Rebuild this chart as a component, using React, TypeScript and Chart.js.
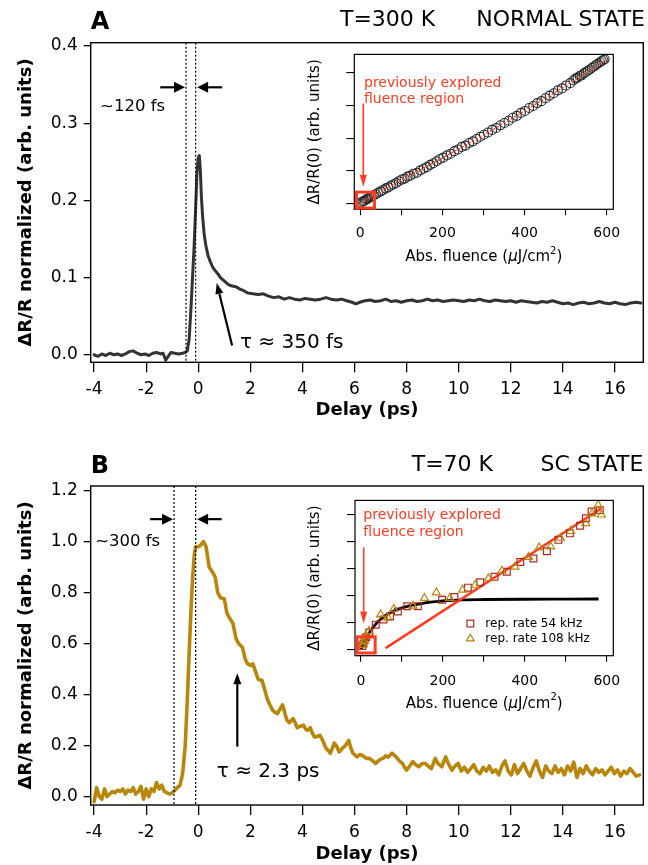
import React, { useEffect, useRef } from "react";
import { Chart, registerables } from "chart.js";
Chart.register(...registerables);

const FONT = "'DejaVu Sans', 'Liberation Sans', sans-serif";
const INK = "#000000";
const TRACE_A = "#333333";
const TRACE_B = "#b8860b";
const RED = "#ff3b21";
const SQUARE = "#b3281c";

// ---------- Panel A: T=300 K trace (delay ps, dR/R) ----------
const traceA: [number, number][] = [
  [-4.0, 0.0], [-3.85, -0.002], [-3.7, 0.001], [-3.55, -0.001], [-3.4, 0.002], [-3.25, 0.0], [-3.1, 0.001],
  [-2.95, -0.001], [-2.8, 0.001], [-2.65, 0.004], [-2.5, 0.005], [-2.35, 0.002], [-2.2, 0.0], [-2.05, 0.001],
  [-1.9, -0.001], [-1.75, 0.002], [-1.6, 0.003], [-1.45, 0.001], [-1.35, 0.002], [-1.25, -0.007], [-1.15, -0.002],
  [-1.05, 0.003], [-0.9, 0.002], [-0.75, 0.001], [-0.6, 0.002], [-0.5, 0.003], [-0.42, 0.005], [-0.35, 0.02],
  [-0.28, 0.06], [-0.22, 0.1], [-0.16, 0.14], [-0.1, 0.19], [-0.05, 0.235], [0.0, 0.255], [0.04, 0.258],
  [0.08, 0.24], [0.12, 0.205], [0.17, 0.178], [0.23, 0.155], [0.3, 0.14], [0.38, 0.128], [0.47, 0.12],
  [0.56, 0.113], [0.65, 0.109], [0.75, 0.105], [0.85, 0.1], [0.95, 0.097], [1.05, 0.094], [1.15, 0.091],
  [1.3, 0.089], [1.45, 0.088], [1.6, 0.085], [1.75, 0.083], [1.9, 0.08], [2.1, 0.079], [2.3, 0.078],
  [2.5, 0.079], [2.7, 0.076], [2.9, 0.074], [3.1, 0.075], [3.3, 0.072], [3.5, 0.074], [3.7, 0.072],
  [3.9, 0.071], [4.1, 0.073], [4.3, 0.072], [4.5, 0.071], [4.7, 0.072], [4.9, 0.074], [5.1, 0.072],
  [5.3, 0.071], [5.5, 0.072], [5.7, 0.07], [5.9, 0.068], [6.05, 0.066], [6.2, 0.068], [6.4, 0.07],
  [6.6, 0.071], [6.8, 0.069], [7.0, 0.07], [7.2, 0.072], [7.4, 0.069], [7.6, 0.07], [7.8, 0.068],
  [8.0, 0.07], [8.2, 0.071], [8.4, 0.069], [8.6, 0.07], [8.8, 0.072], [9.0, 0.07], [9.2, 0.071],
  [9.4, 0.069], [9.6, 0.07], [9.8, 0.071], [10.0, 0.07], [10.2, 0.069], [10.4, 0.071], [10.6, 0.07],
  [10.8, 0.072], [11.0, 0.07], [11.2, 0.069], [11.4, 0.071], [11.6, 0.07], [11.8, 0.069], [12.0, 0.07],
  [12.2, 0.068], [12.4, 0.07], [12.6, 0.069], [12.8, 0.068], [13.0, 0.067], [13.2, 0.069], [13.4, 0.068],
  [13.6, 0.07], [13.8, 0.068], [14.0, 0.066], [14.2, 0.067], [14.4, 0.065], [14.6, 0.067], [14.8, 0.068],
  [15.0, 0.066], [15.2, 0.067], [15.4, 0.069], [15.6, 0.067], [15.8, 0.066], [16.0, 0.068], [16.2, 0.066],
  [16.4, 0.065], [16.6, 0.067], [16.8, 0.068], [17.0, 0.067],
];

// ---------- Panel B: T=70 K trace ----------
const traceB: [number, number][] = [
  [-4.0, -0.02], [-3.9, 0.035], [-3.8, 0.0], [-3.7, -0.01], [-3.6, 0.03], [-3.5, 0.0], [-3.4, 0.01],
  [-3.3, 0.02], [-3.2, 0.015], [-3.1, 0.025], [-3.0, 0.02], [-2.9, 0.03], [-2.8, 0.01], [-2.7, 0.025],
  [-2.6, 0.02], [-2.5, 0.035], [-2.4, 0.01], [-2.3, 0.02], [-2.2, 0.04], [-2.1, -0.01], [-2.0, 0.03],
  [-1.9, 0.0], [-1.8, 0.03], [-1.7, 0.02], [-1.6, 0.055], [-1.5, 0.03], [-1.4, 0.045], [-1.3, 0.02],
  [-1.2, 0.015], [-1.1, 0.01], [-1.0, 0.015], [-0.9, 0.025], [-0.8, 0.035], [-0.7, 0.045], [-0.6, 0.09],
  [-0.5, 0.2], [-0.42, 0.38], [-0.35, 0.56], [-0.28, 0.73], [-0.22, 0.85], [-0.15, 0.95], [-0.1, 0.98],
  [0.0, 0.98], [0.08, 0.985], [0.2, 1.0], [0.3, 0.98], [0.42, 0.9], [0.55, 0.88], [0.65, 0.86],
  [0.75, 0.8], [0.85, 0.78], [1.0, 0.775], [1.1, 0.72], [1.2, 0.7], [1.33, 0.68], [1.45, 0.62],
  [1.55, 0.6], [1.7, 0.585], [1.8, 0.54], [1.9, 0.52], [2.0, 0.515], [2.1, 0.52], [2.2, 0.49],
  [2.3, 0.46], [2.45, 0.455], [2.55, 0.42], [2.66, 0.38], [2.75, 0.36], [2.85, 0.34], [2.95, 0.33],
  [3.04, 0.325], [3.15, 0.345], [3.24, 0.36], [3.32, 0.33], [3.4, 0.3], [3.5, 0.29], [3.64, 0.306],
  [3.72, 0.29], [3.8, 0.27], [3.9, 0.275], [4.04, 0.28], [4.12, 0.265], [4.2, 0.26], [4.3, 0.27],
  [4.38, 0.25], [4.46, 0.234], [4.55, 0.235], [4.67, 0.24], [4.78, 0.22], [4.9, 0.19], [5.0, 0.18],
  [5.07, 0.17], [5.15, 0.19], [5.22, 0.21], [5.3, 0.2], [5.41, 0.175], [5.54, 0.19], [5.65, 0.2],
  [5.78, 0.22], [5.86, 0.19], [5.94, 0.17], [6.1, 0.156], [6.2, 0.165], [6.33, 0.16], [6.45, 0.15],
  [6.57, 0.15], [6.7, 0.14], [6.81, 0.13], [6.97, 0.145], [7.1, 0.15], [7.2, 0.16], [7.3, 0.155],
  [7.44, 0.17], [7.6, 0.156], [7.72, 0.14], [7.84, 0.13], [7.92, 0.115], [8.0, 0.104], [8.12, 0.12],
  [8.24, 0.137], [8.35, 0.125], [8.47, 0.117], [8.6, 0.13], [8.71, 0.13], [8.83, 0.12], [8.95, 0.11],
  [9.1, 0.15], [9.2, 0.13], [9.35, 0.117], [9.5, 0.156], [9.6, 0.13], [9.74, 0.104], [9.86, 0.12],
  [9.98, 0.13], [10.1, 0.1], [10.22, 0.115], [10.34, 0.095], [10.46, 0.11], [10.58, 0.125], [10.7, 0.1],
  [10.82, 0.09], [10.94, 0.115], [11.06, 0.1], [11.18, 0.12], [11.3, 0.095], [11.42, 0.105], [11.54, 0.085],
  [11.66, 0.12], [11.78, 0.14], [11.9, 0.1], [12.02, 0.085], [12.14, 0.125], [12.26, 0.09], [12.38, 0.11],
  [12.5, 0.13], [12.62, 0.1], [12.74, 0.08], [12.86, 0.115], [12.98, 0.14], [13.1, 0.1], [13.22, 0.075],
  [13.34, 0.12], [13.46, 0.1], [13.58, 0.09], [13.7, 0.12], [13.82, 0.095], [13.94, 0.11], [14.06, 0.085],
  [14.18, 0.12], [14.3, 0.1], [14.42, 0.135], [14.54, 0.075], [14.66, 0.11], [14.78, 0.09], [14.9, 0.12],
  [15.02, 0.1], [15.14, 0.085], [15.26, 0.11], [15.38, 0.095], [15.5, 0.105], [15.62, 0.085], [15.74, 0.1],
  [15.86, 0.115], [15.98, 0.09], [16.1, 0.105], [16.22, 0.08], [16.34, 0.1], [16.46, 0.09], [16.58, 0.11],
  [16.7, 0.095], [16.82, 0.08], [16.95, 0.085],
];

// ---------- Inset A: fluence dependence, normal state ----------
const insetAPoints: [number, number][] = [
  [2, 0.03], [5, 0.05], [8, 0.07], [11, 0.09], [14, 0.12], [17, 0.13], [20, 0.16], [24, 0.19], [28, 0.21],
  [33, 0.25], [38, 0.28], [44, 0.33], [50, 0.37], [56, 0.41], [62, 0.46], [68, 0.49], [74, 0.54], [80, 0.58],
  [87, 0.62], [94, 0.68], [101, 0.73], [108, 0.76], [115, 0.82], [122, 0.85], [130, 0.91], [138, 0.94],
  [146, 1.01], [154, 1.06], [162, 1.11], [170, 1.18], [178, 1.23], [186, 1.29], [194, 1.36], [202, 1.4],
  [211, 1.47], [220, 1.52], [229, 1.6], [238, 1.65], [247, 1.73], [256, 1.77], [265, 1.85], [274, 1.9],
  [283, 1.97], [292, 2.04], [301, 2.1], [311, 2.17], [321, 2.25], [331, 2.31], [341, 2.39], [351, 2.46],
  [361, 2.53], [371, 2.62], [381, 2.68], [391, 2.77], [401, 2.83], [411, 2.92], [421, 2.98], [431, 3.07],
  [441, 3.13], [451, 3.22], [461, 3.3], [471, 3.37], [481, 3.46], [491, 3.52], [501, 3.61], [511, 3.68],
  [519, 3.77], [524, 3.82], [529, 3.85], [534, 3.9], [539, 3.92], [544, 3.98], [549, 4.02], [554, 4.06],
  [559, 4.1], [564, 4.15], [569, 4.19], [574, 4.24], [579, 4.28], [584, 4.32], [588, 4.36], [592, 4.39],
  [595, 4.41],
];
const insetAFit: [number, number][] = [
  [0, 0.02], [100, 0.72], [200, 1.39], [300, 2.09], [400, 2.83], [500, 3.6], [600, 4.4],
];

// ---------- Inset B: fluence dependence, SC state ----------
const rate54kHz: [number, number][] = [
  [3, 0.12], [6, 0.2], [9, 0.35], [13, 0.45], [20, 0.62], [36, 0.91], [55, 1.1], [71, 1.22], [90, 1.4],
  [113, 1.59], [139, 1.59], [198, 1.83], [228, 1.93], [261, 2.28], [291, 2.48], [326, 2.68], [356, 2.87],
  [389, 3.23], [421, 3.36], [454, 3.63], [482, 4.05], [510, 4.29], [535, 4.57], [549, 4.85], [563, 5.1],
  [583, 5.15],
];
const rate108kHz: [number, number][] = [
  [2, 0.15], [5, 0.25], [8, 0.32], [12, 0.5], [19.5, 0.67], [48, 1.28], [66, 1.16], [80, 1.49], [127, 1.61],
  [155, 1.89], [184, 2.1], [217, 1.89], [248, 2.2], [279, 2.38], [311, 2.62], [344, 2.9], [376, 3.05],
  [409, 3.41], [435, 3.76], [463, 3.8], [487, 4.12], [512, 4.37], [549, 4.66], [564, 5.02], [579, 5.34],
  [587, 4.98],
];
const saturationCurve: [number, number][] = [
  [0, 0.0], [10, 0.3], [20, 0.6], [30, 0.82], [40, 1.0], [50, 1.13], [60, 1.25], [75, 1.38], [100, 1.53],
  [125, 1.63], [150, 1.7], [175, 1.75], [200, 1.79], [250, 1.83], [300, 1.84], [400, 1.85], [500, 1.855],
  [580, 1.86],
];
const linearFit: [number, number][] = [[60, 0.04], [587, 5.22]];

// ---------- Ticks ----------
const delayTicks = [-4, -2, 0, 2, 4, 6, 8, 10, 12, 14, 16];
const yTicksA = [0, 0.1, 0.2, 0.3, 0.4];
const yTicksB = [0, 0.2, 0.4, 0.6, 0.8, 1.0, 1.2];
const fluenceTicks = [0, 100, 200, 300, 400, 500, 600];
const fluenceLabels = [0, 200, 400, 600];
const insetAYTicks = [0, 1, 2, 3, 4];
const insetBYTicks = [0, 1, 2, 3, 4, 5];

// ---------- Annotation anchors (data coordinates) ----------
const annotA = {
  lines: [-0.47, -0.1], arrowY: 0.3465, arrowTails: [-1.46, 0.92], widthLabel: [-3.77, 0.321],
  tauFrom: [1.3, 0.012], tauTo: [0.71, 0.093], tauLabel: [1.6, 0.015],
};
const annotB = {
  lines: [-0.93, -0.1], arrowY: 1.088, arrowTails: [-1.85, 0.9], widthLabel: [-3.96, 1.0],
  tauFrom: [1.5, 0.196], tauTo: [1.5, 0.484], tauLabel: [0.71, 0.098],
};
const insetAAnnot = { box: [-9.3, 34.6, -0.143, 0.345], arrow: [7.3, 3.06, 0.51], text: [9, 3.67, 3.18] };
const insetBAnnot = {
  box: [-9.3, 34.6, -0.14, 0.46], arrow: [6.6, 3.77, 0.95], text: [5.8, 4.94, 4.32],
  legend: [267, 303.6, 0.95, 0.39],
};

const xy = (pairs: [number, number][]) => pairs.map(([x, y]) => ({ x, y }));

// ---------- drawing helpers ----------
function txt(ctx: any, s: string, x: number, y: number, size: number, o: any = {}) {
  ctx.save();
  ctx.font = `${o.italic ? "italic " : ""}${o.bold ? "bold " : ""}${size}px ${FONT}`;
  ctx.fillStyle = o.color || INK;
  ctx.textAlign = o.align || "left";
  ctx.textBaseline = "middle";
  ctx.fillText(s, x, y);
  ctx.restore();
}
function vDotted(ctx: any, x: number, y1: number, y2: number) {
  ctx.save();
  ctx.strokeStyle = INK;
  ctx.lineWidth = 1.2;
  ctx.setLineDash([2, 2]);
  ctx.beginPath();
  ctx.moveTo(x, y1);
  ctx.lineTo(x, y2);
  ctx.stroke();
  ctx.restore();
}
function arrow(ctx: any, x1: number, y1: number, x2: number, y2: number, o: any = {}) {
  const color = o.color || INK, lw = o.lw || 2, head = o.head || 11, hw = o.hw || 11;
  const ang = Math.atan2(y2 - y1, x2 - x1);
  const bx = x2 - head * Math.cos(ang), by = y2 - head * Math.sin(ang);
  ctx.save();
  ctx.strokeStyle = color;
  ctx.fillStyle = color;
  ctx.lineWidth = lw;
  ctx.beginPath();
  ctx.moveTo(x1, y1);
  ctx.lineTo(bx, by);
  ctx.stroke();
  ctx.beginPath();
  ctx.moveTo(x2, y2);
  ctx.lineTo(bx + (hw / 2) * Math.sin(ang), by - (hw / 2) * Math.cos(ang));
  ctx.lineTo(bx - (hw / 2) * Math.sin(ang), by + (hw / 2) * Math.cos(ang));
  ctx.closePath();
  ctx.fill();
  ctx.restore();
}
function fluenceTitle(ctx: any, cx: number, cy: number, size: number) {
  const parts = [
    { t: "Abs. fluence (", f: `${size}px ${FONT}`, dy: 0 },
    { t: "\u03bc", f: `italic ${size}px ${FONT}`, dy: 0 },
    { t: "J/cm", f: `${size}px ${FONT}`, dy: 0 },
    { t: "2", f: `${Math.round(size * 0.68)}px ${FONT}`, dy: -size * 0.42 },
    { t: ")", f: `${size}px ${FONT}`, dy: 0 },
  ];
  ctx.save();
  ctx.fillStyle = INK;
  ctx.textBaseline = "middle";
  ctx.textAlign = "left";
  let total = 0;
  const widths = parts.map((p) => {
    ctx.font = p.f;
    const w = ctx.measureText(p.t).width;
    total += w;
    return w;
  });
  let x = cx - total / 2;
  parts.forEach((p, i) => {
    ctx.font = p.f;
    ctx.fillText(p.t, x, cy + p.dy);
    x += widths[i];
  });
  ctx.restore();
}

const framePlugin = (lw: number) => ({
  id: "frame",
  afterDraw(chart: any) {
    const { ctx, chartArea: a } = chart;
    ctx.save();
    ctx.strokeStyle = INK;
    ctx.lineWidth = lw;
    ctx.strokeRect(a.left, a.top, a.right - a.left, a.bottom - a.top);
    ctx.restore();
  },
});

// ---------- main panels ----------
function mainConfig(o: any) {
  return {
    type: "line",
    data: {
      datasets: [
        {
          data: xy(o.trace), borderColor: o.color, borderWidth: o.width, pointRadius: 0, tension: 0,
          fill: false, borderJoinStyle: "round", borderCapStyle: "round",
        },
      ],
    },
    options: {
      animation: false, responsive: false, events: [],
      plugins: { legend: { display: false }, tooltip: { enabled: false } },
      layout: { padding: { top: o.padTop, right: 4.7, left: 0, bottom: 0 } },
      scales: {
        x: {
          type: "linear", min: -4.13, max: 17.09,
          afterBuildTicks: (s: any) => { s.ticks = delayTicks.map((v) => ({ value: v })); },
          afterFit: (s: any) => { s.height = o.xAxisH; },
          ticks: { color: INK, font: { family: FONT, size: 17 }, padding: 7, maxRotation: 0, autoSkip: false, callback: (v: any) => String(v) },
          grid: { drawOnChartArea: false, drawTicks: true, tickLength: 10, color: INK, lineWidth: 1.3 },
          border: { display: false },
          title: { display: true, text: "Delay (ps)", color: INK, font: { family: FONT, size: 18, weight: "bold" }, padding: { top: 0, bottom: 0 } },
        },
        y: {
          type: "linear", min: o.yMin, max: o.yMax,
          afterBuildTicks: (s: any) => { s.ticks = o.yTicks.map((v: number) => ({ value: v })); },
          afterFit: (s: any) => { s.width = 90.7; },
          ticks: { color: INK, font: { family: FONT, size: 17 }, padding: 6, callback: (v: any) => Number(v).toFixed(1) },
          grid: { drawOnChartArea: false, drawTicks: true, tickLength: 7, color: INK, lineWidth: 1.3 },
          border: { display: false },
          title: { display: true, text: "\u0394R/R normalized (arb. units)", color: INK, font: { family: FONT, size: 18, weight: "bold" }, padding: { top: 15.7, bottom: 0 } },
        },
      },
    },
    plugins: [framePlugin(1.4), { id: "annot", afterDraw: o.draw }],
  };
}

function drawMain(an: any, o: any) {
  return (chart: any) => {
    const { ctx, chartArea: a, scales } = chart;
    const X = (v: number) => scales.x.getPixelForValue(v);
    const Y = (v: number) => scales.y.getPixelForValue(v);
    an.lines.forEach((v: number) => vDotted(ctx, X(v), a.top, a.bottom));
    const ay = Y(an.arrowY);
    arrow(ctx, X(an.arrowTails[0]), ay, X(an.lines[0]) - 1, ay, { lw: 2.2, head: 11, hw: 11 });
    arrow(ctx, X(an.arrowTails[1]), ay, X(an.lines[1]) + 1.5, ay, { lw: 2.2, head: 11, hw: 11 });
    txt(ctx, o.widthText, X(an.widthLabel[0]), Y(an.widthLabel[1]), 16.5);
    arrow(ctx, X(an.tauFrom[0]), Y(an.tauFrom[1]), X(an.tauTo[0]), Y(an.tauTo[1]), { lw: 2.2, head: 11, hw: 8 });
    txt(ctx, o.tauText, X(an.tauLabel[0]), Y(an.tauLabel[1]), 20);
    txt(ctx, o.letter, a.left, a.top - 19.5, 24, { bold: true });
    txt(ctx, o.temp, o.tempX, a.top - o.headDy, 22);
    txt(ctx, o.state, o.stateRight, a.top - o.headDy, 22, { align: "right" });
  };
}

// ---------- insets ----------
function insetConfig(o: any) {
  return {
    type: "scatter",
    data: { datasets: o.datasets },
    options: {
      animation: false, responsive: false, events: [],
      plugins: { legend: { display: false }, tooltip: { enabled: false } },
      layout: { padding: { top: o.padTop, right: 26.7, left: 0, bottom: 0 } },
      scales: {
        x: {
          type: "linear", min: -14.6, max: 616,
          afterBuildTicks: (s: any) => { s.ticks = fluenceTicks.map((v) => ({ value: v })); },
          afterFit: (s: any) => { s.height = o.xAxisH; },
          ticks: { color: INK, font: { family: FONT, size: 14 }, padding: o.xPad, maxRotation: 0, autoSkip: false, callback: (v: any) => (fluenceLabels.includes(Number(v)) ? String(v) : "") },
          grid: { drawOnChartArea: false, drawTicks: true, tickLength: 6, color: INK, lineWidth: 1.1 },
          border: { display: false },
          title: { display: false },
        },
        y: {
          type: "linear", min: o.yMin, max: o.yMax,
          afterBuildTicks: (s: any) => { s.ticks = o.yTicks.map((v: number) => ({ value: v })); },
          afterFit: (s: any) => { s.width = o.yAxisW; },
          ticks: { color: INK, font: { family: FONT, size: 14 }, padding: 2, callback: () => "" },
          grid: { drawOnChartArea: false, drawTicks: true, tickLength: 8, color: INK, lineWidth: 1.1 },
          border: { display: false },
          title: { display: true, text: "\u0394R/R(0) (arb. units)", color: INK, font: { family: FONT, size: 15 }, padding: { top: 6, bottom: 0 } },
        },
      },
    },
    plugins: [framePlugin(1.2), { id: "annot", afterDraw: o.draw }],
  };
}

function drawInsetCommon(chart: any, an: any) {
  const { ctx, chartArea: a, scales } = chart;
  const X = (v: number) => scales.x.getPixelForValue(v);
  const Y = (v: number) => scales.y.getPixelForValue(v);
  ctx.save();
  ctx.strokeStyle = RED;
  ctx.lineWidth = 3;
  ctx.strokeRect(X(an.box[0]), Y(an.box[3]), X(an.box[1]) - X(an.box[0]), Y(an.box[2]) - Y(an.box[3]));
  ctx.restore();
  arrow(ctx, X(an.arrow[0]), Y(an.arrow[1]), X(an.arrow[0]), Y(an.arrow[2]), { color: RED, lw: 1.6, head: 12, hw: 7 });
  txt(ctx, "previously explored", X(an.text[0]), Y(an.text[1]), 14, { color: RED });
  txt(ctx, "fluence region", X(an.text[0]), Y(an.text[2]), 14, { color: RED });
  fluenceTitle(ctx, (a.left + a.right) / 2, a.bottom + 48.3, 15);
  return { ctx, X, Y };
}

const insetADraw = (chart: any) => {
  drawInsetCommon(chart, insetAAnnot);
};

const insetBDraw = (chart: any) => {
  const { ctx, X, Y } = drawInsetCommon(chart, insetBAnnot);
  const [mx, tx, y1, y2] = insetBAnnot.legend;
  ctx.save();
  ctx.lineWidth = 1.2;
  ctx.strokeStyle = SQUARE;
  ctx.strokeRect(X(mx) - 3.4, Y(y1) - 3.4, 6.8, 6.8);
  ctx.strokeStyle = TRACE_B;
  const r = 4.5, cx = X(mx), cy = Y(y2);
  ctx.beginPath();
  ctx.moveTo(cx, cy - r);
  ctx.lineTo(cx + r * 0.866, cy + r * 0.5);
  ctx.lineTo(cx - r * 0.866, cy + r * 0.5);
  ctx.closePath();
  ctx.stroke();
  ctx.restore();
  txt(ctx, "rep. rate 54 kHz", X(tx), Y(y1), 12);
  txt(ctx, "rep. rate 108 kHz", X(tx), Y(y2), 12);
};

function ChartCanvas({ left, top, width, height, make }: any) {
  const ref = useRef<HTMLCanvasElement | null>(null);
  useEffect(() => {
    const chart = new Chart(ref.current as any, make());
    return () => chart.destroy();
  }, []);
  return (
    <canvas ref={ref} width={width} height={height}
      style={{ position: "absolute", left, top, width, height }} />
  );
}

export default function App() {
  const mainA = () => mainConfig({
    trace: traceA, color: TRACE_A, width: 3, yMin: -0.0098, yMax: 0.4043, yTicks: yTicksA,
    padTop: 42.7, xAxisH: 58.7,
    draw: drawMain(annotA, {
      widthText: "~120 fs", tauText: "\u03c4 \u2248 350 fs", letter: "A",
      temp: "T=300 K", tempX: 340, state: "NORMAL STATE", stateRight: 645, headDy: 22.7,
    }),
  });
  const mainB = () => mainConfig({
    trace: traceB, color: TRACE_B, width: 3.6, yMin: -0.033, yMax: 1.218, yTicks: yTicksB,
    padTop: 41, xAxisH: 60,
    draw: drawMain(annotB, {
      widthText: "~300 fs", tauText: "\u03c4 \u2248 2.3 ps", letter: "B",
      temp: "T=70 K", tempX: 411.7, state: "SC STATE", stateRight: 643.3, headDy: 21,
    }),
  });
  const insetA = () => insetConfig({
    padTop: 10, xAxisH: 62.7, yAxisW: 54.3, xPad: 9.5, yMin: -0.18, yMax: 4.56, yTicks: insetAYTicks,
    draw: insetADraw,
    datasets: [
      { data: xy(insetAFit), showLine: true, borderColor: RED, borderWidth: 1.4, borderDash: [2, 2], pointRadius: 0 },
      {
        data: xy(insetAPoints), showLine: false, pointStyle: "circle", pointRadius: 4.5,
        pointBorderColor: "#2a2a2a", pointBackgroundColor: "rgba(0,0,0,0)", pointBorderWidth: 1.1,
      },
    ],
  });
  const insetB = () => insetConfig({
    padTop: 9.5, xAxisH: 62.3, yAxisW: 55, xPad: 11.5, yMin: -0.24, yMax: 5.51, yTicks: insetBYTicks,
    draw: insetBDraw,
    datasets: [
      {
        data: xy(rate108kHz), showLine: false, pointStyle: "triangle", pointRadius: 4.6,
        pointBorderColor: TRACE_B, pointBackgroundColor: "rgba(0,0,0,0)", pointBorderWidth: 1.2,
      },
      {
        data: xy(rate54kHz), showLine: false, pointStyle: "rect", pointRadius: 4.8,
        pointBorderColor: SQUARE, pointBackgroundColor: "rgba(0,0,0,0)", pointBorderWidth: 1.2,
      },
      { data: xy(linearFit), showLine: true, borderColor: RED, borderWidth: 2.5, pointRadius: 0 },
      {
        data: xy(saturationCurve), showLine: true, borderColor: INK, borderWidth: 2.8, pointRadius: 0,
        cubicInterpolationMode: "monotone",
      },
    ],
  });
  return (
    <div style={{ position: "absolute", left: 0, top: 0, width: 648, height: 865, background: "#fff" }}>
      <ChartCanvas left={0} top={0} width={648} height={421} make={mainA} />
      <ChartCanvas left={0} top={445} width={648} height={420} make={mainB} />
      <ChartCanvas left={300} top={44} width={340} height={228} make={insetA} />
      <ChartCanvas left={300} top={490} width={340} height={228} make={insetB} />
    </div>
  );
}
